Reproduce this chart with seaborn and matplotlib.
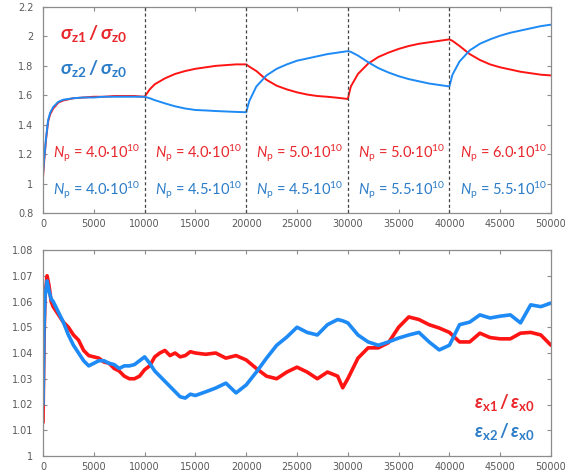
import matplotlib
matplotlib.use("Agg")
import numpy as np
import pandas as pd
import seaborn as sns
import matplotlib.pyplot as plt
from matplotlib.ticker import FuncFormatter, MultipleLocator

# ---------------- data ----------------
top_turns = [0, 100, 200, 300, 500, 700, 1000, 1500, 2000, 3000, 4000, 5000, 6000, 7000, 8000, 9000, 10000,
             10500, 11000, 12000, 13000, 14000, 15000, 16000, 17000, 18000, 19000, 20000,
             20300, 21000, 22000, 23000, 24000, 25000, 26000, 27000, 28000, 29000, 30000,
             30300, 31000, 32000, 33000, 34000, 35000, 36000, 37000, 38000, 39000, 40000,
             40300, 41000, 42000, 43000, 44000, 45000, 46000, 47000, 48000, 49000, 50000]
sigma_z1 = [1.04, 1.14, 1.22, 1.30, 1.42, 1.47, 1.51, 1.55, 1.565, 1.58, 1.585, 1.59, 1.59, 1.595, 1.595, 1.595, 1.59,
            1.64, 1.675, 1.715, 1.745, 1.765, 1.78, 1.79, 1.80, 1.805, 1.81, 1.81,
            1.795, 1.765, 1.705, 1.665, 1.64, 1.62, 1.605, 1.595, 1.59, 1.583, 1.575,
            1.66, 1.745, 1.815, 1.86, 1.89, 1.915, 1.935, 1.95, 1.96, 1.97, 1.98,
            1.97, 1.935, 1.88, 1.84, 1.81, 1.79, 1.775, 1.76, 1.75, 1.74, 1.735]
sigma_z2 = [1.06, 1.16, 1.23, 1.31, 1.43, 1.48, 1.52, 1.555, 1.57, 1.58, 1.585, 1.585, 1.59, 1.59, 1.59, 1.59, 1.59,
            1.58, 1.567, 1.545, 1.525, 1.51, 1.50, 1.497, 1.493, 1.49, 1.487, 1.485,
            1.56, 1.66, 1.735, 1.78, 1.81, 1.835, 1.85, 1.865, 1.88, 1.89, 1.90,
            1.895, 1.87, 1.825, 1.785, 1.755, 1.73, 1.71, 1.695, 1.68, 1.67, 1.66,
            1.74, 1.83, 1.905, 1.95, 1.98, 2.005, 2.025, 2.04, 2.055, 2.07, 2.08]

bot_turns = [0, 100, 200, 400, 600, 800,
             1000, 1500, 2000, 2500, 3000, 3500, 4000, 4500, 5000, 5500, 6000, 6500, 7000, 7500,
             8000, 8500, 9000, 9500, 10000, 10500, 11000, 11500, 12000, 12500, 13000, 13500, 14000, 14500, 15000,
             16000, 17000, 18000, 19000, 20000, 21000, 22000, 23000, 24000, 25000, 26000, 27000, 28000, 29000,
             29500, 30000, 31000, 32000, 33000, 34000, 35000, 36000, 37000, 38000, 39000, 40000,
             41000, 42000, 43000, 44000, 45000, 46000, 47000, 48000, 49000, 50000]
eps_x1 = [1.013, 1.045, 1.062, 1.070, 1.066, 1.060,
          1.058, 1.055, 1.052, 1.050, 1.047, 1.045, 1.041, 1.039, 1.0385, 1.038, 1.0365, 1.036, 1.034, 1.033,
          1.031, 1.030, 1.030, 1.031, 1.0335, 1.035, 1.0385, 1.040, 1.041, 1.039, 1.040, 1.0385, 1.039, 1.0405, 1.040,
          1.0395, 1.040, 1.038, 1.039, 1.0373, 1.034, 1.031, 1.030, 1.0326, 1.0345, 1.0326, 1.030, 1.0326, 1.031,
          1.0265, 1.030, 1.038, 1.042, 1.042, 1.044, 1.050, 1.054, 1.053, 1.051, 1.0497, 1.048,
          1.0443, 1.0443, 1.0477, 1.046, 1.0455, 1.0455, 1.0477, 1.048, 1.047, 1.043]
eps_x2 = [1.020, 1.050, 1.062, 1.068, 1.064, 1.061,
          1.060, 1.056, 1.052, 1.047, 1.043, 1.040, 1.037, 1.035, 1.036, 1.037, 1.037, 1.036, 1.0355, 1.034,
          1.035, 1.035, 1.0355, 1.037, 1.0385, 1.036, 1.033, 1.031, 1.029, 1.027, 1.025, 1.023, 1.0225, 1.024, 1.0235,
          1.0249, 1.0264, 1.0283, 1.0245, 1.0276, 1.0326, 1.038, 1.043, 1.0462, 1.050, 1.048, 1.047, 1.051, 1.053,
          1.0525, 1.0517, 1.047, 1.0443, 1.043, 1.0443, 1.0458, 1.047, 1.048, 1.0443, 1.0412, 1.043,
          1.051, 1.052, 1.0548, 1.0536, 1.0543, 1.0548, 1.0517, 1.0587, 1.058, 1.0594]

boundaries = [10000, 20000, 30000, 40000]
np_beam1 = ["4.0", "4.0", "5.0", "5.0", "6.0"]
np_beam2 = ["4.0", "4.5", "4.5", "5.5", "5.5"]

# ---------------- style ----------------
sns.set_style("ticks")
plt.rcParams["font.family"] = ["DejaVu Sans"]
plt.rcParams["mathtext.fontset"] = "custom"
plt.rcParams["mathtext.rm"] = "Lato"
plt.rcParams["mathtext.it"] = "Lato:italic"
plt.rcParams["mathtext.bf"] = "Lato:bold"
plt.rcParams["mathtext.bfit"] = "Lato:bold:italic"

RED_L, BLUE_L = "#ff1414", "#1e8af5"
RED_T, BLUE_T = "#e8262b", "#2b7cc8"

fig = plt.figure(figsize=(5.65, 4.74), dpi=100)
W, H = 565, 474
ax1 = fig.add_axes([43 / W, 1 - 213 / H, 508 / W, 206 / H])
ax2 = fig.add_axes([43 / W, 1 - 456 / H, 508 / W, 206 / H])

df_top = pd.DataFrame({
    "turn": top_turns + top_turns,
    "ratio": sigma_z1 + sigma_z2,
    "beam": ["b1"] * len(top_turns) + ["b2"] * len(top_turns),
})
df_bot = pd.DataFrame({
    "turn": bot_turns + bot_turns,
    "ratio": eps_x1 + eps_x2,
    "beam": ["b1"] * len(bot_turns) + ["b2"] * len(bot_turns),
})
pal = {"b1": RED_L, "b2": BLUE_L}

sns.lineplot(data=df_top, x="turn", y="ratio", hue="beam", palette=pal, ax=ax1,
             legend=False, estimator=None, sort=False, linewidth=1.4)
sns.lineplot(data=df_bot, x="turn", y="ratio", hue="beam", palette=pal, ax=ax2,
             legend=False, estimator=None, sort=False, linewidth=2.6)

for b in boundaries:
    ax1.axvline(b, color="#444444", ls=(0, (2.5, 2)), lw=0.9, zorder=5)

ax1.set_xlim(0, 50000)
ax1.set_ylim(0.8, 2.2)
ax2.set_xlim(0, 50000)
ax2.set_ylim(1.0, 1.08)
ax1.yaxis.set_major_locator(MultipleLocator(0.2))
ax2.yaxis.set_major_locator(MultipleLocator(0.01))
fmt = FuncFormatter(lambda v, p: "%g" % round(v, 4))
for ax in (ax1, ax2):
    ax.xaxis.set_major_locator(MultipleLocator(5000))
    ax.yaxis.set_major_formatter(fmt)
    ax.xaxis.set_major_formatter(FuncFormatter(lambda v, p: "%d" % v))
    ax.set_xlabel("")
    ax.set_ylabel("")
    for s in ax.spines.values():
        s.set_visible(True)
        s.set_color("#8c8c8c")
        s.set_linewidth(0.9)
    ax.tick_params(direction="in", length=3, width=0.8, color="#8c8c8c",
                   labelcolor="#5a5a5a", labelsize=7, top=True, right=True)
    ax.tick_params(axis="x", pad=4)
    ax.tick_params(axis="y", pad=7)

# labels in top panel
ax1.text(1700, 2.02, r"$\mathbfit{\sigma}_{\mathbf{z1}}\,\mathbf{/}\,\mathbfit{\sigma}_{\mathbf{z0}}$",
         color=RED_T, fontsize=14, ha="left", va="center")
ax1.text(1700, 1.78, r"$\mathbfit{\sigma}_{\mathbf{z2}}\,\mathbf{/}\,\mathbfit{\sigma}_{\mathbf{z0}}$",
         color=BLUE_T, fontsize=14, ha="left", va="center")

for i, (v1, v2) in enumerate(zip(np_beam1, np_beam2)):
    xc = 10000 * i + 5300
    ax1.text(xc, 1.207, r"$N_\mathrm{p}$ = " + v1 + r"·10$^{10}$", color=RED_T,
             fontsize=10.5, family="Lato", ha="center", va="center")
    ax1.text(xc, 0.955, r"$N_\mathrm{p}$ = " + v2 + r"·10$^{10}$", color=BLUE_T,
             fontsize=10.5, family="Lato", ha="center", va="center")

ax2.text(48400, 1.0206, r"$\mathbfit{\varepsilon}_{\mathbf{x1}}\,\mathbf{/}\,\mathbfit{\varepsilon}_{\mathbf{x0}}$",
         color=RED_T, fontsize=13.5, ha="right", va="center")
ax2.text(48400, 1.0097, r"$\mathbfit{\varepsilon}_{\mathbf{x2}}\,\mathbf{/}\,\mathbfit{\varepsilon}_{\mathbf{x0}}$",
         color=BLUE_T, fontsize=13.5, ha="right", va="center")

fig.savefig("out.png", dpi=100)
